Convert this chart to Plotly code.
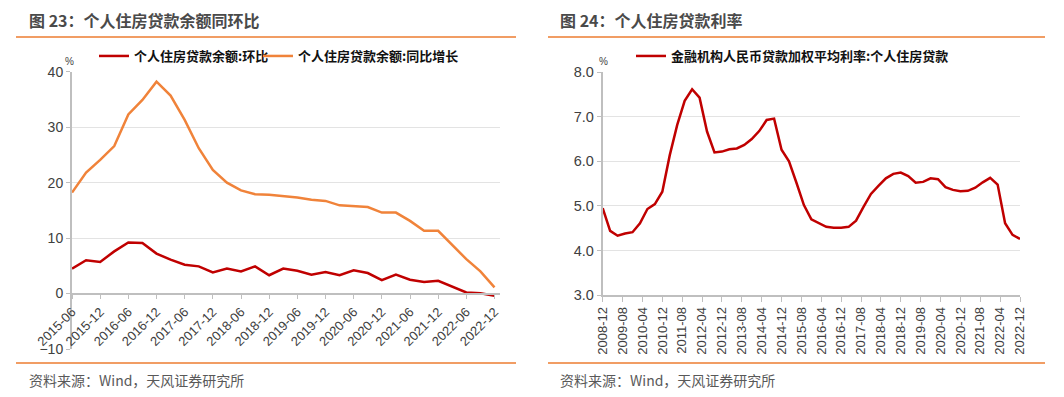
import plotly.graph_objects as go

# page body has an 8px margin: draw a slightly smaller figure and shift coordinates
OFF = 8
W, H = 1064 - 2 * OFF, 397 - 2 * OFF

# ---------------- data ----------------
# Left chart: quarterly, 2015-06 .. 2022-12 (31 points)
left_ticks = ["2015-06", "2015-12", "2016-06", "2016-12", "2017-06", "2017-12",
              "2018-06", "2018-12", "2019-06", "2019-12", "2020-06", "2020-12",
              "2021-06", "2021-12", "2022-06", "2022-12"]
qoq = [4.5, 6.0, 5.7, 7.6, 9.2, 9.1, 7.2, 6.1, 5.2, 4.9, 3.8, 4.5, 4.0, 4.9, 3.3, 4.5,
       4.1, 3.4, 3.9, 3.3, 4.2, 3.7, 2.4, 3.4, 2.5, 2.1, 2.3, 1.2, 0.2, 0.05, -0.4]
yoy = [18.2, 21.8, 24.1, 26.6, 32.3, 34.9, 38.2, 35.7, 31.3, 26.2, 22.3, 20.0, 18.6, 17.9,
       17.8, 17.6, 17.3, 16.9, 16.7, 15.9, 15.7, 15.6, 14.6, 14.6, 13.1, 11.3, 11.3, 8.7,
       6.2, 4.0, 1.1]

# Right chart: quarterly, 2008-12 .. 2022-12 (57 points), ticks every 8 months
right_ticks = ["2008-12", "2009-08", "2010-04", "2010-12", "2011-08", "2012-04", "2012-12",
               "2013-08", "2014-04", "2014-12", "2015-08", "2016-04", "2016-12", "2017-08",
               "2018-04", "2018-12", "2019-08", "2020-04", "2020-12", "2021-08", "2022-04",
               "2022-12"]
rate = [4.95, 4.44, 4.33, 4.38, 4.41, 4.61, 4.93, 5.04, 5.32, 6.14, 6.82, 7.36, 7.62, 7.43,
        6.67, 6.20, 6.22, 6.27, 6.29, 6.37, 6.50, 6.68, 6.93, 6.96, 6.26, 6.00, 5.52, 5.02,
        4.70, 4.62, 4.53, 4.51, 4.51, 4.53, 4.67, 4.98, 5.27, 5.45, 5.62, 5.72, 5.75, 5.67,
        5.52, 5.54, 5.62, 5.60, 5.42, 5.36, 5.33, 5.34, 5.41, 5.53, 5.63, 5.48, 4.61, 4.35,
        4.26]

name_qoq = "个人住房贷款余额:环比"
name_yoy = "个人住房贷款余额:同比增长"
name_rate = "金融机构人民币贷款加权平均利率:个人住房贷款"

RED = "#C00000"
ORANGE = "#F0833A"
FONT = "Liberation Sans, Arial, Noto Sans CJK SC, sans-serif"
CJK = "Noto Sans CJK SC, Liberation Sans, sans-serif"
AXIS = "#BFBFBF"
GRID = "#E3E3E3"
TXT = "#404040"

def px(x):
    return (x - OFF) / W

def py(y):
    return (H - (y - OFF)) / H

# ---------------- geometry (page pixels) ----------------
L_x0, L_x1, L_top, L_bot = 72, 500, 71.7, 349
R_x0, R_x1, R_top, R_bot = 602.7, 1020, 72.3, 295
left_zero_pix = L_top + (L_bot - L_top) * 40 / 50

fig = go.Figure()

xq = list(range(len(qoq)))
fig.add_trace(go.Scatter(x=xq, y=qoq, mode="lines", name=name_qoq,
                         line=dict(color=RED, width=2.5), xaxis="x", yaxis="y",
                         legend="legend"))
fig.add_trace(go.Scatter(x=xq, y=yoy, mode="lines", name=name_yoy,
                         line=dict(color=ORANGE, width=2.5), xaxis="x", yaxis="y",
                         legend="legend3"))
xm = [3 * i for i in range(len(rate))]
fig.add_trace(go.Scatter(x=xm, y=rate, mode="lines", name=name_rate,
                         line=dict(color=RED, width=2.5), xaxis="x2", yaxis="y2",
                         legend="legend2"))

idx_last = len(qoq) - 1
left_range_max = idx_last * (L_x1 - L_x0) / (494.5 - L_x0)

def legend_at(xpix):
    return dict(orientation="h", x=px(xpix), y=py(56), xanchor="left", yanchor="middle",
                bgcolor="rgba(0,0,0,0)", itemwidth=30,
                font=dict(size=13, color="#111111", family=CJK, weight="bold"))

fig.update_layout(
    width=W, height=H,
    margin=dict(l=0, r=0, t=0, b=0, autoexpand=False),
    paper_bgcolor="white", plot_bgcolor="white",
    font=dict(family=FONT, color=TXT),
    xaxis=dict(domain=[px(L_x0), px(L_x1)], anchor="free", position=py(left_zero_pix),
               range=[0, left_range_max], automargin=False,
               tickmode="array", tickvals=list(range(0, len(qoq), 2)), ticktext=left_ticks,
               tickangle=-45, ticks="outside", ticklen=5, tickcolor=AXIS,
               showline=True, linecolor=AXIS, linewidth=1.5, showgrid=False, zeroline=False,
               tickfont=dict(size=13, color=TXT, family=FONT)),
    yaxis=dict(domain=[py(L_bot), py(L_top)], anchor="x", range=[-10, 40], automargin=False,
               tickvals=[-10, 0, 10, 20, 30, 40], ticks="outside", ticklen=4, tickcolor=AXIS,
               showline=True, linecolor=AXIS, linewidth=2, showgrid=True, gridcolor=GRID,
               gridwidth=1, zeroline=False, tickfont=dict(size=14, color=TXT, family=FONT)),
    xaxis2=dict(domain=[px(R_x0), px(R_x1)], anchor="y2", range=[0, 168], automargin=False,
                tickmode="array", tickvals=list(range(0, 169, 8)), ticktext=right_ticks,
                tickangle=-90, ticks="outside", ticklen=5, tickcolor=AXIS,
                showline=True, linecolor=AXIS, linewidth=1.5, showgrid=False, zeroline=False,
                tickfont=dict(size=13, color=TXT, family=FONT)),
    yaxis2=dict(domain=[py(R_bot), py(R_top)], anchor="x2", range=[3, 8], dtick=1,
                automargin=False,
                tickformat=".1f", ticks="outside", ticklen=4, tickcolor=AXIS,
                showline=True, linecolor=AXIS, linewidth=2, showgrid=True, gridcolor=GRID,
                gridwidth=1, zeroline=False, tickfont=dict(size=14.5, color=TXT, family=FONT)),
    legend=legend_at(94),
    legend3=legend_at(258),
    legend2=legend_at(631),
    showlegend=True,
)

ann = []
ann.append(dict(text="图 23：个人住房贷款余额同环比", x=px(27), y=py(20), xref="paper", yref="paper",
                xanchor="left", yanchor="middle", showarrow=False,
                font=dict(size=16, color="#4A4A4A", family=CJK, weight="bold")))
ann.append(dict(text="图 24：个人住房贷款利率", x=px(558), y=py(20), xref="paper", yref="paper",
                xanchor="left", yanchor="middle", showarrow=False,
                font=dict(size=16, color="#4A4A4A", family=CJK, weight="bold")))
for xs in (27, 558):
    ann.append(dict(text="资料来源：Wind，天风证券研究所", x=px(xs), y=py(380), xref="paper",
                    yref="paper", xanchor="left", yanchor="middle", showarrow=False,
                    font=dict(size=14, color="#595959", family=CJK)))
ann.append(dict(text="%", x=px(69), y=py(62), xref="paper", yref="paper", xanchor="center",
                yanchor="middle", showarrow=False, font=dict(size=10, color=TXT, family=FONT)))
ann.append(dict(text="%", x=px(603), y=py(62), xref="paper", yref="paper", xanchor="center",
                yanchor="middle", showarrow=False, font=dict(size=10, color=TXT, family=FONT)))
fig.update_layout(annotations=ann)

shapes = []
for (a, b) in ((16, 516), (548, 1045)):
    for yy in (37, 363):
        shapes.append(dict(type="line", xref="paper", yref="paper", x0=px(a), x1=px(b),
                           y0=py(yy), y1=py(yy), line=dict(color="#ED7D31", width=1.5)))
fig.update_layout(shapes=shapes)

fig.write_html("out.html")
